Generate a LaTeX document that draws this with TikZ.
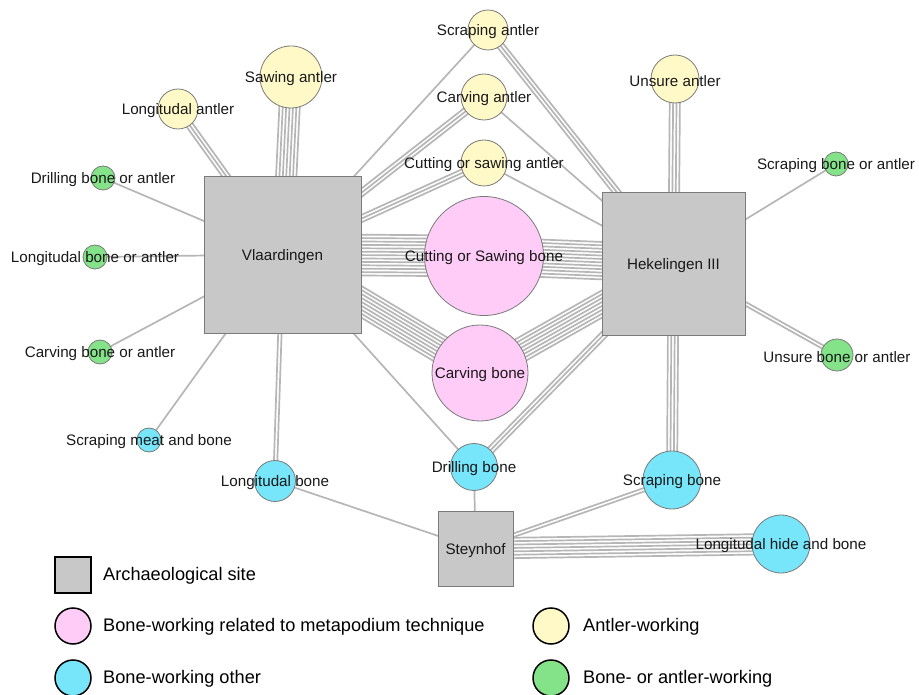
\documentclass[tikz,border=0pt]{standalone}
\usepackage{fontspec}
\setmainfont{Liberation Sans}
\usetikzlibrary{calc,backgrounds}
\definecolor{sitefill}{HTML}{C8C8C8}
\definecolor{siteborder}{HTML}{7A7A7A}
\definecolor{pinkfill}{HTML}{FFCCF8}
\definecolor{cyanfill}{HTML}{78E6FA}
\definecolor{yelfill}{HTML}{FFF9C8}
\definecolor{greenfill}{HTML}{84E388}
\definecolor{edgecol}{HTML}{B6B6B6}
\tikzset{
  site/.style={rectangle, draw=siteborder, fill=sitefill, line width=0.8pt, inner sep=0pt},
  act/.style={circle, draw=siteborder, line width=0.8pt, inner sep=0pt},
  lbl/.style={font=\fontsize{15.2}{18}\selectfont, inner sep=0pt, text=black!90, yshift=-2pt},
  edgeline/.style={draw=edgecol, line width=1.7pt},
  legbox/.style={draw=black, line width=1.5pt, inner sep=0pt},
  legtxt/.style={font=\fontsize{18.2}{21}\selectfont, anchor=west, inner sep=0pt, yshift=-1pt}
}
\newcommand\bundle[3]{%
  \foreach \k in {1,...,#1}{%
    \pgfmathsetmacro\off{(\k-(#1+1)/2)*3.4}%
    \draw[edgeline] ($(#2)!\off pt!90:(#3)$) -- ($(#3)!\off pt!-90:(#2)$);
  }%
}
\begin{document}
\begin{tikzpicture}[x=1pt,y=-1pt]
\useasboundingbox (0,0) rectangle (919,695);

% sites
\node[site, minimum size=157pt, label={[lbl]center:Vlaardingen}] (V) at (282.5,254.5) {};
\node[site, minimum size=143pt, label={[lbl]center:Hekelingen III}] (H) at (673.5,263.5) {};
\node[site, minimum size=75pt, label={[lbl]center:Steynhof}] (S) at (475.5,548.5) {};

% activities
\node[act, fill=yelfill, minimum size=40pt, label={[lbl]center:Longitudal antler}] (la) at (178,109) {};
\node[act, fill=yelfill, minimum size=62pt, label={[lbl]center:Sawing antler}] (sa) at (291,77) {};
\node[act, fill=yelfill, minimum size=40pt, label={[lbl]center:Scraping antler}] (scra) at (488,30) {};
\node[act, fill=yelfill, minimum size=46pt, label={[lbl]center:Carving antler}] (ca) at (484,97) {};
\node[act, fill=yelfill, minimum size=46pt, label={[lbl]center:Cutting or sawing antler}] (csa) at (484,163) {};
\node[act, fill=yelfill, minimum size=48pt, label={[lbl]center:Unsure antler}] (ua) at (675,79) {};
\node[act, fill=pinkfill, minimum size=119pt, label={[lbl]center:Cutting or Sawing bone}] (csb) at (484,256) {};
\node[act, fill=pinkfill, minimum size=96pt, label={[lbl]center:Carving bone}] (cb) at (480,373) {};
\node[act, fill=greenfill, minimum size=24pt, label={[lbl]center:Drilling bone or antler}] (dboa) at (103,178) {};
\node[act, fill=greenfill, minimum size=24pt, label={[lbl]center:Longitudal bone or antler}] (lboa) at (95,257) {};
\node[act, fill=greenfill, minimum size=24pt, label={[lbl]center:Carving bone or antler}] (cboa) at (100,352) {};
\node[act, fill=greenfill, minimum size=24pt, label={[lbl]center:Scraping bone or antler}] (sboa) at (836,164) {};
\node[act, fill=greenfill, minimum size=32pt, label={[lbl]center:Unsure bone or antler}] (uboa) at (837,355) {};
\node[act, fill=cyanfill, minimum size=24pt, label={[lbl]center:Scraping meat and bone}] (smb) at (149,440) {};
\node[act, fill=cyanfill, minimum size=41pt, label={[lbl]center:Longitudal bone}] (lb) at (275,481) {};
\node[act, fill=cyanfill, minimum size=47pt, label={[lbl]center:Drilling bone}] (db) at (474,467) {};
\node[act, fill=cyanfill, minimum size=58pt, label={[lbl]center:Scraping bone}] (sb) at (672,480) {};
\node[act, fill=cyanfill, minimum size=58pt, label={[lbl]center:Longitudal hide and bone}] (lhb) at (781,544) {};

% edges
\begin{scope}[on background layer]
\bundle{3}{V}{la}
\bundle{7}{V}{sa}
\bundle{1}{V}{scra}
\bundle{3}{V}{ca}
\bundle{3}{V}{csa}
\bundle{13}{V}{csb}
\bundle{9}{V}{cb}
\bundle{1}{V}{db}
\bundle{2}{V}{lb}
\bundle{1}{V}{smb}
\bundle{1}{V}{cboa}
\bundle{1}{V}{lboa}
\bundle{1}{V}{dboa}
\bundle{3}{H}{scra}
\bundle{1}{H}{ca}
\bundle{1}{H}{csa}
\bundle{4}{H}{ua}
\bundle{1}{H}{sboa}
\bundle{2}{H}{uboa}
\bundle{12}{H}{csb}
\bundle{8}{H}{cb}
\bundle{3}{H}{db}
\bundle{4}{H}{sb}
\bundle{1}{S}{db}
\bundle{1}{S}{lb}
\bundle{2}{S}{sb}
\bundle{7}{S}{lhb}
\end{scope}

% legend
\node[legbox, fill=sitefill, minimum size=36pt] (k1) at (73,575) {};
\node[legtxt] (t1) at (103,575) {Archaeological site};
\node[legbox, circle, fill=pinkfill, minimum size=36pt] (k2) at (73,626) {};
\node[legtxt] (t2) at (103,626) {Bone-working related to metapodium technique};
\node[legbox, circle, fill=cyanfill, minimum size=36pt] (k3) at (73,678) {};
\node[legtxt] (t3) at (103,678) {Bone-working other};
\node[legbox, circle, fill=yelfill, minimum size=36pt] (k4) at (551,626) {};
\node[legtxt] (t4) at (583,626) {Antler-working};
\node[legbox, circle, fill=greenfill, minimum size=36pt] (k5) at (551,678) {};
\node[legtxt] (t5) at (583,678) {Bone- or antler-working};
\end{tikzpicture}
\end{document}
